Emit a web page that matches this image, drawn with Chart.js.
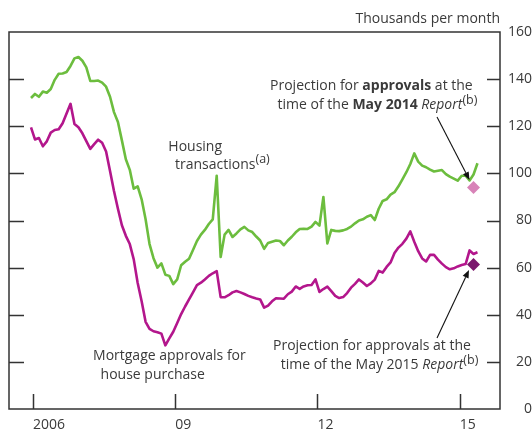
<!DOCTYPE html>
<html>
<head>
<meta charset="utf-8">
<script src="https://cdn.jsdelivr.net/npm/chart.js@4.4.1/dist/chart.umd.min.js"></script>
<style>
  html, body { margin: 0; padding: 0; background: #fff; }
</style>
</head>
<body>
<canvas id="chart" width="532" height="430"></canvas>
<script>
'use strict';

// ─── Data (monthly, index 0 = Jan 2006) ───────────────────────────────────────
const transactions = [
  132, 133.7, 132.5, 134.7, 134.2, 135.8, 139.7, 142.3, 142.4, 143,
  145.6, 148.8, 149.4, 147.8, 145, 139.2, 139.2, 139.4, 138.5, 136.8,
  132.5, 126, 121.8, 114, 106, 101.5, 93.5, 94.5, 89, 80.5,
  70, 64, 60, 61.8, 57, 56.5, 53, 55, 61, 62.5,
  63.8, 67.5, 71.3, 74, 76, 78.5, 80.5, 99, 64.5, 74,
  76, 73, 74.5, 76.2, 77.3, 75.8, 75.1, 73.2, 71.5, 68,
  70.5, 71, 71.5, 71.3, 69.5, 71.5, 73.1, 75, 76.4, 76.5,
  76.4, 77.4, 79.4, 77.8, 90, 70.3, 76, 75.6, 75.5, 75.8,
  76.4, 77.4, 78.8, 80, 80.5, 81.6, 82.3, 80.2, 85, 88.3,
  89, 91, 92, 94.5, 97.5, 100.5, 104, 108.5, 105, 103.3,
  102.6, 101.6, 100.8, 101.1, 101.4, 99.7, 98.6, 97.8, 96.9, 99,
  99, 97, 99.5, 104.3
];

const approvals = [
  119.5, 114.4, 115, 111.5, 113.6, 117.3, 118.4, 118.7, 121.3, 125.4,
  129.5, 121, 119.6, 117, 113.7, 110.4, 112.4, 114.3, 113, 109.3,
  101, 92.5, 85, 78, 73.5, 70, 63.5, 53.5, 45.7, 37,
  34, 33, 32.6, 32, 27, 30, 32.8, 36.5, 40.3, 43.5,
  46.5, 49.5, 52.6, 53.6, 55, 56.5, 57.6, 58.5, 47.5, 47.4,
  48.3, 49.5, 50.1, 49.5, 48.8, 48, 47.4, 46.9, 46.5, 43,
  43.9, 45.7, 47, 46.9, 46.8, 48.7, 49.8, 52, 51, 52,
  52.5, 52.6, 55, 49.7, 50.9, 51.9, 50, 48, 47.1, 47.5,
  49.2, 51.5, 53.1, 55, 53.7, 52.2, 53.3, 54.9, 58.6, 57.9,
  60.3, 62.2, 66.2, 68.5, 70.1, 72.3, 75.4, 71, 67, 63.9,
  62.6, 65.4, 65.4, 63.4, 61.7, 60.2, 59.3, 59.7, 60.5, 61.1,
  61.5, 67.3, 65.8, 66.5
];

const PROJ_MONTH = 112;
const proj2014   = [94];
const proj2015   = [61.3];

const TICK_POS    = [0.5, 36.5, 72.5, 108.5];
const TICK_LABELS = ['2006', '09', '12', '15'];

// ─── Styles ───────────────────────────────────────────────────────────────────
const GREEN   = '#6cbd3e';
const MAGENTA = '#b3168c';
const PINK    = '#d883b8';
const PLUM    = '#7b176d';
const TEXT    = '#3a3a3a';
const AXIS    = '#333333';
const FAMILY  = '"Open Sans", "DejaVu Sans", sans-serif';

Chart.defaults.font.family = FAMILY;
Chart.defaults.font.size   = 14;
Chart.defaults.color       = TEXT;

// annotation lines: anchor in data units (month, value), left-aligned
const NOTES = [
  { x: 34.75, y: 111.2, parts: [['Housing', 'n']] },
  { x: 36.45, y: 103.6, parts: [['transactions', 'n'], ['(a)', 'sup']] },
  { x: 60.5,  y: 136.9, parts: [['Projection for ', 'n'], ['approvals', 'b'], [' at the', 'n']] },
  { x: 62.4,  y: 129.0, parts: [['time of the ', 'n'], ['May 2014', 'b'], [' ', 'n'], ['Report', 'i'], ['(b)', 'sup']] },
  { x: 15.7,  y: 22.6,  parts: [['Mortgage approvals for', 'n']] },
  { x: 17.6,  y: 14.4,  parts: [['house purchase', 'n']] },
  { x: 61.25, y: 26.7,  parts: [['Projection for approvals at the', 'n']] },
  { x: 63.2,  y: 18.7,  parts: [['time of the May 2015 ', 'n'], ['Report', 'i'], ['(b)', 'sup']] },
];

const ARROWS = [
  { from: [102.76, 123.9], to: [110.98, 97.2] },
  { from: [102.76, 30.1],  to: [110.86, 59.0] },
];

function fontFor(style) {
  if (style === 'b')   return `bold 14px ${FAMILY}`;
  if (style === 'i')   return `italic 14px ${FAMILY}`;
  if (style === 'sup') return `12.5px ${FAMILY}`;
  return `14px ${FAMILY}`;
}

function drawArrow(ctx, x1, y1, x2, y2) {
  const ang = Math.atan2(y2 - y1, x2 - x1);
  const len = 8, half = 3.2;
  const bx = x2 - Math.cos(ang) * len;
  const by = y2 - Math.sin(ang) * len;
  ctx.beginPath();
  ctx.moveTo(x1, y1);
  ctx.lineTo(bx, by);
  ctx.stroke();
  ctx.beginPath();
  ctx.moveTo(x2, y2);
  ctx.lineTo(bx - Math.sin(ang) * half, by + Math.cos(ang) * half);
  ctx.lineTo(bx + Math.sin(ang) * half, by - Math.cos(ang) * half);
  ctx.closePath();
  ctx.fill();
}

// ─── Frame, inward ticks, notes ───────────────────────────────────────────────
const framePlugin = {
  id: 'frame',
  afterDraw(chart) {
    const { ctx, chartArea: a, scales: { x, y } } = chart;
    ctx.save();
    ctx.strokeStyle = AXIS;
    ctx.lineWidth = 1.5;
    ctx.strokeRect(a.left, a.top, a.right - a.left, a.bottom - a.top);

    ctx.beginPath();
    for (let v = 20; v < 160; v += 20) {
      const py = Math.round(y.getPixelForValue(v)) + 0.5;
      ctx.moveTo(a.left, py);  ctx.lineTo(a.left + 15, py);
      ctx.moveTo(a.right - 13, py); ctx.lineTo(a.right, py);
    }
    TICK_POS.forEach((v) => {
      const px = Math.round(x.getPixelForValue(v)) + 0.5;
      ctx.moveTo(px, a.bottom); ctx.lineTo(px, a.bottom - 15);
    });
    ctx.stroke();

    // unit label
    ctx.fillStyle = TEXT;
    ctx.font = `14px ${FAMILY}`;
    ctx.textAlign = 'right';
    ctx.textBaseline = 'middle';
    ctx.fillText('Thousands per month', a.right, a.top - 13);

    // notes
    ctx.textAlign = 'left';
    NOTES.forEach((n) => {
      let px = x.getPixelForValue(n.x);
      const py = y.getPixelForValue(n.y);
      n.parts.forEach(([txt, style]) => {
        ctx.font = fontFor(style);
        ctx.fillText(txt, px, style === 'sup' ? py - 5 : py);
        px += ctx.measureText(txt).width;
      });
    });

    // arrows
    ctx.strokeStyle = '#111';
    ctx.fillStyle = '#111';
    ctx.lineWidth = 1.1;
    ARROWS.forEach((ar) => {
      drawArrow(ctx,
        x.getPixelForValue(ar.from[0]), y.getPixelForValue(ar.from[1]),
        x.getPixelForValue(ar.to[0]),   y.getPixelForValue(ar.to[1]));
    });
    ctx.restore();
  },
};

const toPoints = (arr) => arr.map((v, i) => ({ x: i, y: v }));

new Chart(document.getElementById('chart').getContext('2d'), {
  type: 'line',
  data: {
    datasets: [
      {
        data: proj2014.map((v) => ({ x: PROJ_MONTH, y: v })),
        showLine: false,
        pointStyle: 'rectRot',
        pointRadius: 6.5,
        pointBackgroundColor: PINK,
        pointBorderWidth: 0,
      },
      {
        data: proj2015.map((v) => ({ x: PROJ_MONTH, y: v })),
        showLine: false,
        pointStyle: 'rectRot',
        pointRadius: 6.5,
        pointBackgroundColor: PLUM,
        pointBorderWidth: 0,
      },
      {
        data: toPoints(transactions),
        borderColor: GREEN,
        borderWidth: 2.6,
        pointRadius: 0,
        tension: 0,
        borderJoinStyle: 'round',
      },
      {
        data: toPoints(approvals),
        borderColor: MAGENTA,
        borderWidth: 2.6,
        pointRadius: 0,
        tension: 0,
        borderJoinStyle: 'round',
      },
    ],
  },
  options: {
    responsive: false,
    animation: false,
    layout: { padding: { left: 9, top: 32, right: 0, bottom: 0 } },
    plugins: {
      legend:  { display: false },
      tooltip: { enabled: false },
    },
    scales: {
      x: {
        type: 'linear',
        min: -5.57,
        max: 118.7,
        afterBuildTicks: (s) => { s.ticks = TICK_POS.map((v) => ({ value: v })); },
        afterFit: (s) => { s.height = 21; },
        grid:   { display: false, drawTicks: false },
        border: { display: false },
        ticks: {
          autoSkip: false,
          maxRotation: 0,
          align: 'start',
          padding: 8,
          callback: (v, i) => TICK_LABELS[i],
        },
      },
      y: {
        position: 'right',
        min: 0,
        max: 160,
        afterFit: (s) => { s.width = 32; },
        grid:   { display: false, drawTicks: false },
        border: { display: false },
        ticks: { stepSize: 20, crossAlign: 'far', padding: 7 },
      },
    },
  },
  plugins: [framePlugin],
});
</script>
</body>
</html>
